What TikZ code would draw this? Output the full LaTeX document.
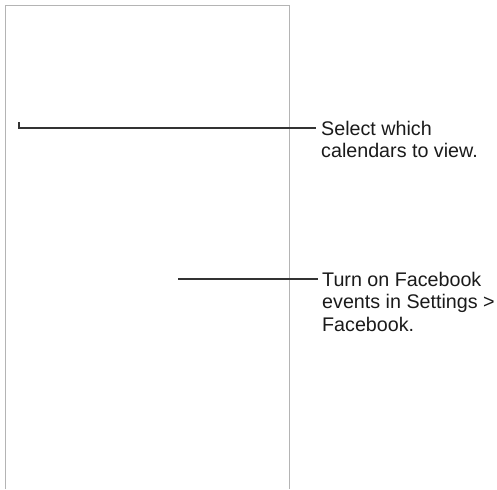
\documentclass[tikz,border=0pt]{standalone}
\usepackage{fontspec}
\setmainfont{Liberation Sans}
\usepackage{tikz}
\usetikzlibrary{calc}
\definecolor{frameg}{HTML}{B4B4B4}
\definecolor{leadInk}{HTML}{333333}
\definecolor{txtInk}{HTML}{1A1A1A}
\tikzset{
  phoneframe/.style = {draw=frameg, line width=1.3pt},
  leader/.style     = {draw=leadInk, line width=1.2pt},
  callout/.style    = {anchor=north west, inner sep=0pt, align=left,
                       text=txtInk, font=\fontsize{19.7}{22.5}\selectfont},
}

\begin{document}
\begin{tikzpicture}[x=1pt, y=-1pt]
  \useasboundingbox (0,0) rectangle (497,489);
  % screen outline, open at the bottom
  \draw[phoneframe] (5.5,489) |- (289.5,5.5) -- (289.5,489);
  \coordinate (calpt)   at (19,128);
  \coordinate (caltick) at (19,122.5);
  \node[callout] (callbl) at (321,120.7) {Select which\\calendars to view.};
  \draw[leader] (caltick) -- (calpt) -- ([xshift=-5pt]calpt -| callbl.west);
  \coordinate (fbpt) at (178,279);
  \node[callout] (fblbl) at (322,271.9)
    {Turn on Facebook\\events in Settings >\\Facebook.};
  \draw[leader] (fbpt) -- ([xshift=-4pt]fbpt -| fblbl.west);
\end{tikzpicture}
\end{document}
